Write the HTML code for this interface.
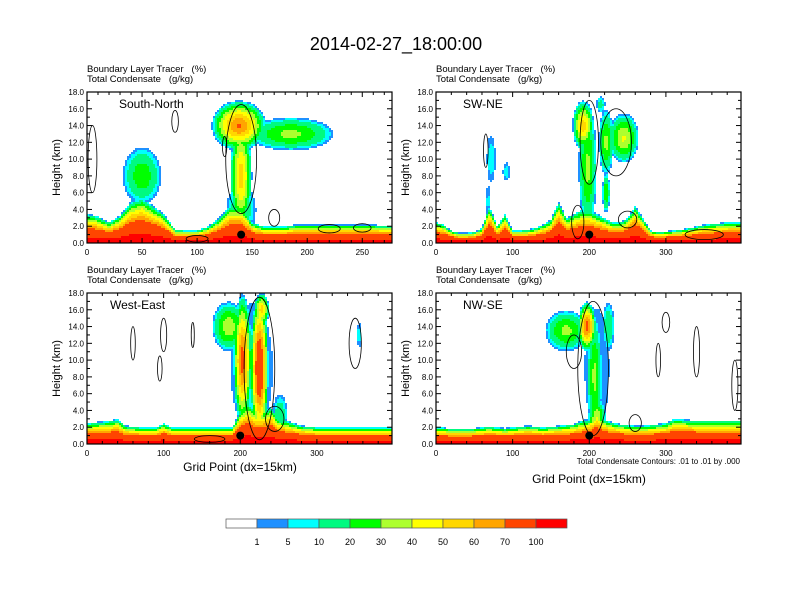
<!DOCTYPE html>
<html><head><meta charset="utf-8"><style>
body{margin:0;background:#fff;}
svg{display:block;font-family:"Liberation Sans",sans-serif;}
text{white-space:pre;}
</style></head><body>
<svg id="chart" width="792" height="612" viewBox="0 0 792 612">
<text x="396" y="50" text-anchor="middle" font-size="18">2014-02-27_18:00:00</text>
</svg>
<script>
// ---- data ----
const panelNames = ["South-North","SW-NE","West-East","NW-SE"];
const panelXMax = [277, 398, 398, 398];
const xTickValues = [[0,50,100,150,200,250],[0,100,200,300],[0,100,200,300],[0,100,200,300]];
const yTickValues = [0,2,4,6,8,10,12,14,16,18];
const levelBounds = [1,5,10,20,30,40,50,60,70,100];
const levelColors = ["#ffffff","#1e90ff","#00ffff","#00fa80","#00ff00","#adff2f","#ffff00","#ffd700","#ffa500","#ff4500","#ff0000"];
// boundary-layer depth (km), sampled every 10 grid points
const blDepthSN = [3.5,3.2,2.5,3.3,5,5.5,4.5,3.5,1.6,1.5,1.5,2,3,4.5,4.5,2.5,2,2,2,2.2,2.2,2.2,2.2,2.2,2.2,2.2,2.2,2.1,2.1];
const blDepthSWNE = [2.5,2.2,1.5,1.2,1.2,1.3,1.8,4.5,2,3.5,1.5,1.5,1.6,1.8,2.2,2.8,5,3,3.5,4,4,3.5,3,2.5,2.5,3,4.5,3,1.5,1.3,1.4,1.5,1.6,1.8,2,2.2,2.3,2.4,2.5,2.5,2.5];
const blDepthWE = [2.5,2.6,2.7,2.8,3,2.2,2.1,2,2,2,2.5,2,2,2,2,2,2,2,2,2,4,5,4,4,4.5,3,2.8,2.5,2.2,2.1,2,2,2,2,2,2,2,2,2,2,2];
const blDepthNWSE = [2,2,1.8,1.8,1.8,1.9,2,2.1,2,1.9,2,2.1,2.2,2.1,2,2.1,2.2,2.3,2.4,2.8,3,4,3,2.6,2.4,2.3,2.2,2.2,2.3,2.4,2.5,3,3,2.9,2.8,2.8,2.8,2.8,2.8,2.8,2.8];
// cloud/tracer blobs: [x grid, z km, half-width x, half-height z, peak %]
const blobsSN = [[50,8,18,3.5,26],[140,8,10,6.5,55],[138,14,25,3,70],[185,13,40,2,32],[140,4,14,3,18]];
const blobsSWNE = [[72,10,6,3,8],[92,8.5,5,1.2,7],[68,5,4,2,5],[198,9,12,7.5,32],[192,14,14,3,55],[222,12,10,4,32],[245,12.5,20,3,40],[222,6,5,2.5,28],[215,16.5,6,1,14]];
const blobsWE = [[225,9,12,9,90],[203,10,12,8,75],[185,14,22,3,36],[228,16,10,2,55],[252,3.5,10,2.5,16],[355,13,4,1.5,8],[215,9,30,8.5,6]];
const blobsNWSE = [[207,8,10,7.5,32],[197,14,12,3,75],[170,13.5,28,2.5,32],[225,14,8,3,18],[210,3,12,2.5,40],[210,9,18,8,4]];
// condensate contours (0.01 g/kg) approximated as closed outlines: [x, z, rx, rz]
const contSN = [[80,14.5,3,1.3],[125,11.5,2,1.2],[140,10,14,6.5],[170,3,5,1],[220,1.7,10,0.5],[250,1.8,8,0.5],[100,0.5,10,0.4],[5,10,4,4]];
const contSWNE = [[200,12,12,5],[185,2.5,8,2],[250,2.8,12,1],[350,1,25,0.6],[65,11,3,2],[235,12,20,4]];
const contWE = [[60,12,3,2],[100,13,4,2],[138,13,2,1.5],[350,12,8,3],[225,9,20,8.5],[245,3,12,1.5],[95,9,3,1.5],[160,0.6,20,0.4]];
const contNWSE = [[205,9,20,8],[300,14.5,5,1.2],[340,11,4,3],[290,10,3,2],[390,7,4,3],[260,2.5,8,1],[180,11,10,2]];
const blDepths = [blDepthSN, blDepthSWNE, blDepthWE, blDepthNWSE];
const blobSets = [blobsSN, blobsSWNE, blobsWE, blobsNWSE];
const contSets = [contSN, contSWNE, contWE, contNWSE];
const markerX = [140, 200, 200, 200];
const markerZ = [1, 1, 1, 1];

// ---- layout ----
const NS="http://www.w3.org/2000/svg";
const svg=document.getElementById('chart');
const panelLeft=[87,436,87,436], panelTop=[92,92,293,293], PW=305, PH=151;
function mk(tag,attrs,parent){const e=document.createElementNS(NS,tag);for(const k in attrs)e.setAttribute(k,attrs[k]);(parent||svg).appendChild(e);return e;}
function colorIndex(v){let i=0;while(i<levelBounds.length&&v>=levelBounds[i])i++;return i;}

for(let p=0;p<4;p++){
  const L=panelLeft[p],T=panelTop[p],xmax=panelXMax[p];
  const sx=x=>L+x/xmax*PW, sy=z=>T+PH-z/18*PH;
  const g=mk('g',{});
  
  
  const depth=blDepths[p], blobs=blobSets[p];
  function val(x,z){
    const i=Math.max(0,Math.min(depth.length-2,Math.floor(x/10))), f=Math.min(1,x/10-i);
    const h=depth[i]*(1-f)+depth[i+1]*f;
    let v=0;
    if(z<h){v=110*(1-Math.pow(z/h,1.5));}
    for(const b of blobs){const d=Math.sqrt(((x-b[0])/b[2])**2+((z-b[1])/b[3])**2);if(d<1){const w=1-Math.pow(d,1.5);v=Math.max(v,b[4]*w+2*w);}}
    return v;
  }
  const cell=2;
  for(let py=0;py<PH;py+=cell){
    const z=18*(1-(py+cell/2)/PH);
    const hh=Math.min(cell,PH-py);
    let runStart=0,runC=-1;
    for(let px=0;px<PW+cell;px+=cell){
      let c=-2, pxe=Math.min(px,PW);
      if(px<PW){const x=(px+cell/2)/PW*xmax;c=colorIndex(val(x,z));}
      if(c!==runC){
        if(runC>0){const r=mk('rect',{x:L+runStart,y:T+py,width:pxe-runStart,height:hh,fill:levelColors[runC]},g);
          
          }
        runStart=pxe;runC=c;
      }
    }
  }
  // contours
  const clip=mk('clipPath',{id:'clip'+p},g);
  mk('rect',{x:L,y:T,width:PW,height:PH},clip);
  const cg=mk('g',{'clip-path':`url(#clip${p})`},g);
  for(const c of contSets[p]){
    const e=mk('ellipse',{cx:sx(c[0]),cy:sy(c[1]),rx:c[2]/xmax*PW,ry:c[3]/18*PH,fill:'none',stroke:'#000','stroke-width':0.8},cg);
    
    
  }
  // marker
  const m=mk('circle',{cx:sx(markerX[p]),cy:sy(markerZ[p]),r:4,fill:'#000'},g);
  
  
  // frame
  const fr=mk('rect',{x:L,y:T,width:PW,height:PH,fill:'none',stroke:'#000','stroke-width':1.2},g);
  
  
  // y ticks
  for(const t of yTickValues){
    const y=sy(t);
    mk('line',{x1:L,x2:L+5,y1:y,y2:y,stroke:'#000'},g);
    mk('line',{x1:L+PW,x2:L+PW-5,y1:y,y2:y,stroke:'#000'},g);
    const tx=mk('text',{x:L-3,y:y+3,'text-anchor':'end','font-size':8},g);tx.textContent=t.toFixed(1);
    
    
    if(t<18){const ym=sy(t+1);mk('line',{x1:L,x2:L+3,y1:ym,y2:ym,stroke:'#000'},g);mk('line',{x1:L+PW,x2:L+PW-3,y1:ym,y2:ym,stroke:'#000'},g);}
  }
  // x ticks
  const step=xTickValues[p][1]-xTickValues[p][0];
  for(let t=0;t<=xmax;t+=step/5){
    const x=sx(t), major=Math.abs(t/step-Math.round(t/step))<1e-6, len=major?5:3;
    mk('line',{x1:x,x2:x,y1:T+PH,y2:T+PH-len,stroke:'#000'},g);
    mk('line',{x1:x,x2:x,y1:T,y2:T+len,stroke:'#000'},g);
  }
  for(const t of xTickValues[p]){
    const tx=mk('text',{x:sx(t),y:T+PH+12,'text-anchor':'middle','font-size':8},g);tx.textContent=t;
    
    
  }
  const nm=mk('text',{x:L+(p==0?32:p==2?23:27),y:T+16,'font-size':12},g);nm.textContent=panelNames[p];
  
  
  const t1=mk('text',{x:L,y:T-20,'font-size':9.5},g);t1.textContent='Boundary Layer Tracer   (%)';
  
  
  const t2=mk('text',{x:L,y:T-10,'font-size':9.5},g);t2.textContent='Total Condensate   (g/kg)';
  
  
  const yl=mk('text',{x:0,y:0,'font-size':11,'text-anchor':'middle',transform:`translate(${L-27},${T+PH/2}) rotate(-90)`},g);yl.textContent='Height (km)';
  
  
}
// x-axis titles
let xa=mk('text',{x:240,y:471,'text-anchor':'middle','font-size':12});xa.textContent='Grid Point (dx=15km)';


xa=mk('text',{x:589,y:483,'text-anchor':'middle','font-size':12});xa.textContent='Grid Point (dx=15km)';


const info=mk('text',{x:740,y:464,'text-anchor':'end','font-size':8});info.textContent='Total Condensate Contours: .01 to .01 by .000';


// colorbar
const cbL=226,cbW=31,cbT=519;
for(let i=0;i<levelColors.length;i++){
  const r=mk('rect',{x:cbL+i*cbW,y:cbT,width:cbW,height:9,fill:levelColors[i],stroke:'#555','stroke-width':0.7});
  
  
}
for(let i=0;i<levelBounds.length;i++){
  const t=mk('text',{x:cbL+(i+1)*cbW,y:cbT+26,'text-anchor':'middle','font-size':9});t.textContent=levelBounds[i];
  
  
}
</script>
</body></html>
